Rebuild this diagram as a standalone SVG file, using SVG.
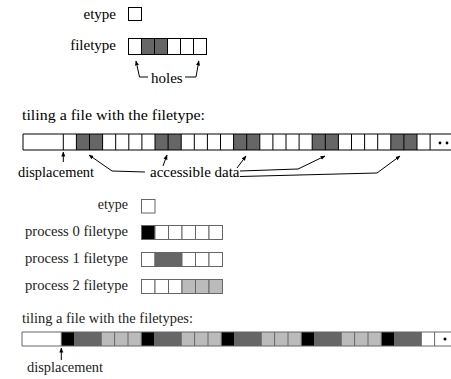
<svg xmlns="http://www.w3.org/2000/svg" width="451" height="379" viewBox="0 0 451 379">
<defs>
<style>
text{font-family:"Liberation Serif","Times New Roman",serif;fill:#000}
.t1{font-size:15px}
.t2{font-size:14px;fill:#222}
.end{text-anchor:end}
.c{stroke:#000;stroke-width:1}
.g{fill:#666}
.w{fill:#fff}
.k{fill:#000}
.l{fill:#bbb}
.c2{stroke:#666;stroke-width:1}
.ln{fill:none;stroke:#000;stroke-width:1}
</style>
<marker id="ah" viewBox="0 0 10 10" refX="9" refY="5" markerWidth="5" markerHeight="5" orient="auto" markerUnits="userSpaceOnUse">
<path d="M0,1 L10,5 L0,9 Z" fill="#000"/>
</marker>
</defs>
<rect width="451" height="379" fill="#fff"/>

<!-- Section 1 -->
<g id="etype1">
<text class="t1 end" x="116" y="19">etype</text>
<rect class="c w" x="128.5" y="7.5" width="13" height="13"/>
</g>
<g id="filetype1">
<text class="t1 end" x="116" y="50">filetype</text>
<rect class="c w" x="128.5" y="38.5" width="13" height="16"/>
<rect class="c g" x="141.5" y="38.5" width="13" height="16"/>
<rect class="c g" x="154.5" y="38.5" width="13" height="16"/>
<rect class="c w" x="167.5" y="38.5" width="13" height="16"/>
<rect class="c w" x="180.5" y="38.5" width="13" height="16"/>
<rect class="c w" x="193.5" y="38.5" width="13" height="16"/>
</g>
<g id="holes">
<text class="t1" x="151" y="83">holes</text>
</g>

<!-- Section 2 -->
<g id="tiling1">
<text class="t1" x="22" y="120" textLength="183" lengthAdjust="spacingAndGlyphs">tiling a file with the filetype:</text>
</g>
<g id="strip1">
<rect class="g" x="76.4" y="134" width="26.2" height="16"/>
<rect class="g" x="155" y="134" width="26.2" height="16"/>
<rect class="g" x="233.6" y="134" width="26.2" height="16"/>
<rect class="g" x="312.2" y="134" width="26.2" height="16"/>
<rect class="g" x="390.8" y="134" width="26.2" height="16"/>
<path class="c" fill="none" d="M451,134 H23 V150 H451"/>
<path class="c" fill="none" d="M63.3,134V150 M76.4,134V150 M89.5,134V150 M102.6,134V150 M115.7,134V150 M128.8,134V150 M141.9,134V150 M155,134V150 M168.1,134V150 M181.2,134V150 M194.3,134V150 M207.4,134V150 M220.5,134V150 M233.6,134V150 M246.7,134V150 M259.8,134V150 M272.9,134V150 M286,134V150 M299.1,134V150 M312.2,134V150 M325.3,134V150 M338.4,134V150 M351.5,134V150 M364.6,134V150 M377.7,134V150 M390.8,134V150 M403.9,134V150 M417,134V150 M430.1,134V150"/>
<circle cx="440" cy="143" r="1.4" fill="#000"/>
<circle cx="447" cy="143" r="1.4" fill="#000"/>
</g>
<g id="labels1">
<text class="t1" x="18" y="177" textLength="76" lengthAdjust="spacingAndGlyphs">displacement</text>
<text class="t1" x="150" y="177">accessible data</text>
</g>

<!-- Section 3 -->
<g id="etype2">
<text class="t2 end" x="128" y="209">etype</text>
<rect class="c2 w" x="141.5" y="199.5" width="13.5" height="13.5"/>
</g>
<g id="p0">
<text class="t2" x="25" y="236" textLength="103" lengthAdjust="spacingAndGlyphs">process 0 filetype</text>
<rect class="c2 k" x="141.5" y="225.5" width="13.5" height="14"/>
<rect class="c2 w" x="155" y="225.5" width="13.5" height="14"/>
<rect class="c2 w" x="168.5" y="225.5" width="13.5" height="14"/>
<rect class="c2 w" x="182" y="225.5" width="13.5" height="14"/>
<rect class="c2 w" x="195.5" y="225.5" width="13.5" height="14"/>
<rect class="c2 w" x="209" y="225.5" width="13.5" height="14"/>
</g>
<g id="p1">
<text class="t2" x="25" y="263" textLength="103" lengthAdjust="spacingAndGlyphs">process 1 filetype</text>
<rect class="c2 w" x="141.5" y="252.5" width="13.5" height="14"/>
<rect class="c2 g" x="155" y="252.5" width="13.5" height="14"/>
<rect class="c2 g" x="168.5" y="252.5" width="13.5" height="14"/>
<rect class="c2 w" x="182" y="252.5" width="13.5" height="14"/>
<rect class="c2 w" x="195.5" y="252.5" width="13.5" height="14"/>
<rect class="c2 w" x="209" y="252.5" width="13.5" height="14"/>
</g>
<g id="p2">
<text class="t2" x="25" y="290" textLength="103" lengthAdjust="spacingAndGlyphs">process 2 filetype</text>
<rect class="c2 w" x="141.5" y="279.5" width="13.5" height="14"/>
<rect class="c2 w" x="155" y="279.5" width="13.5" height="14"/>
<rect class="c2 w" x="168.5" y="279.5" width="13.5" height="14"/>
<rect class="c2 l" x="182" y="279.5" width="13.5" height="14"/>
<rect class="c2 l" x="195.5" y="279.5" width="13.5" height="14"/>
<rect class="c2 l" x="209" y="279.5" width="13.5" height="14"/>
</g>

<!-- Section 4 -->
<g id="tiling2">
<text class="t2" x="22" y="323" textLength="171" lengthAdjust="spacingAndGlyphs">tiling a file with the filetypes:</text>
</g>
<g id="strip2">
<rect class="k" x="61.3" y="332" width="13.33" height="14"/>
<rect class="g" x="74.6" y="332" width="26.7" height="14"/>
<rect class="l" x="101.3" y="332" width="40" height="14"/>
<rect class="k" x="141.3" y="332" width="13.33" height="14"/>
<rect class="g" x="154.6" y="332" width="26.7" height="14"/>
<rect class="l" x="181.3" y="332" width="40" height="14"/>
<rect class="k" x="221.3" y="332" width="13.33" height="14"/>
<rect class="g" x="234.6" y="332" width="26.7" height="14"/>
<rect class="l" x="261.3" y="332" width="40" height="14"/>
<rect class="k" x="301.3" y="332" width="13.33" height="14"/>
<rect class="g" x="314.6" y="332" width="26.7" height="14"/>
<rect class="l" x="341.3" y="332" width="40" height="14"/>
<rect class="k" x="381.3" y="332" width="13.33" height="14"/>
<rect class="g" x="394.6" y="332" width="26.7" height="14"/>
<path class="c2" fill="none" d="M451,332 H22 V346 H451"/>
<path class="c2" fill="none" d="M61.3,332V346 M74.6,332V346 M88,332V346 M101.3,332V346 M114.6,332V346 M128,332V346 M141.3,332V346 M154.6,332V346 M168,332V346 M181.3,332V346 M194.6,332V346 M208,332V346 M221.3,332V346 M234.6,332V346 M248,332V346 M261.3,332V346 M274.6,332V346 M288,332V346 M301.3,332V346 M314.6,332V346 M328,332V346 M341.3,332V346 M354.6,332V346 M368,332V346 M381.3,332V346 M394.6,332V346 M408,332V346 M421.3,332V346 M434.6,332V346"/>
<circle cx="445" cy="339" r="1.5" fill="#000"/>
</g>
<g id="labels2">
<text class="t2" x="27" y="372" textLength="76" lengthAdjust="spacingAndGlyphs">displacement</text>
</g>

<!-- Connectors -->
<g id="connectors">
<path class="ln" d="M148,77 H139.5 L136,61" marker-end="url(#ah)"/>
<path class="ln" d="M185,77 H196 L198.8,61" marker-end="url(#ah)"/>
<path class="ln" d="M63.3,162 V152" marker-end="url(#ah)"/>
<path class="ln" d="M145,172 L112,171 L89,155" marker-end="url(#ah)"/>
<path class="ln" d="M163,166 L167,155" marker-end="url(#ah)"/>
<path class="ln" d="M237,168 L246,156" marker-end="url(#ah)"/>
<path class="ln" d="M240,171 L298,169 L325,156" marker-end="url(#ah)"/>
<path class="ln" d="M240,176.5 L377,173 L400,156" marker-end="url(#ah)"/>
<path class="ln" d="M61.3,360 V348" marker-end="url(#ah)"/>
</g>
</svg>
